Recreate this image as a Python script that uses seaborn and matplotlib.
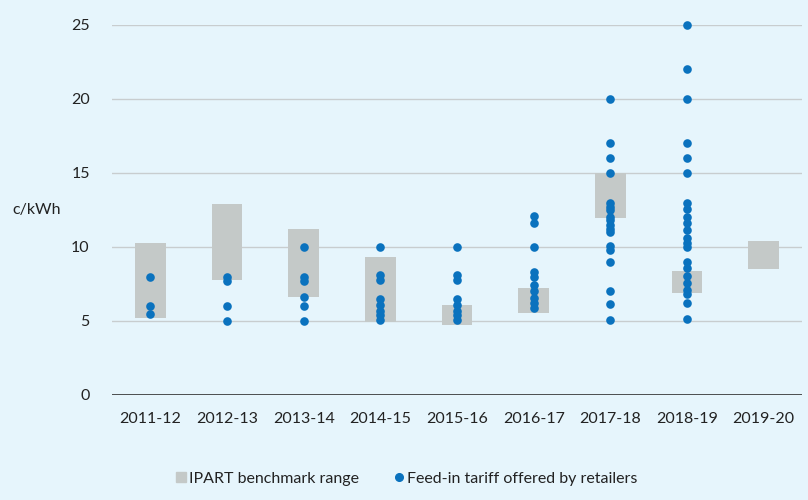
import numpy as np
import pandas as pd
import matplotlib
matplotlib.use("Agg")
import matplotlib.pyplot as plt
from matplotlib.lines import Line2D
import seaborn as sns

years = ["2011-12", "2012-13", "2013-14", "2014-15", "2015-16",
         "2016-17", "2017-18", "2018-19", "2019-20"]
bench_low = [5.2, 7.75, 6.6, 4.95, 4.75, 5.55, 11.95, 6.9, 8.5]
bench_high = [10.3, 12.9, 11.2, 9.3, 6.1, 7.2, 15.0, 8.4, 10.4]

fit_2011 = [8.0, 6.0, 5.5]
fit_2012 = [8.0, 7.7, 6.0, 5.0]
fit_2013 = [10.0, 8.0, 7.7, 6.6, 6.0, 5.0]
fit_2014 = [10.0, 8.1, 7.75, 6.5, 6.1, 5.7, 5.4, 5.05]
fit_2015 = [10.0, 8.1, 7.75, 6.5, 6.1, 5.7, 5.4, 5.05]
fit_2016 = [12.1, 11.6, 10.0, 8.3, 8.0, 7.4, 7.05, 6.55, 6.25, 5.9]
fit_2017 = [20.0, 17.0, 16.0, 15.0, 13.0, 12.7, 12.5, 12.05, 11.8, 11.5,
            11.2, 11.0, 10.05, 9.8, 9.0, 7.0, 6.15, 5.1]
fit_2018 = [25.0, 22.0, 20.0, 17.0, 16.0, 15.0, 13.0, 12.55, 12.05, 11.6,
            11.15, 10.6, 10.25, 10.0, 9.0, 8.55, 8.05, 7.55, 7.1, 6.8, 6.25, 5.15]
fit_2019 = []

fit_lists = [fit_2011, fit_2012, fit_2013, fit_2014, fit_2015,
             fit_2016, fit_2017, fit_2018, fit_2019]

bg = "#E6F5FC"
bar_color = "#C4C9C8"
dot_color = "#0A72BE"
text_color = "#222222"

plt.rcParams['font.family'] = ['Lato', 'DejaVu Sans']

fig = plt.figure(figsize=(8.08, 5.0), dpi=100, facecolor=bg)
ax = fig.add_axes([0.1386, 0.21, 0.854, 0.74])
ax.set_facecolor(bg)

bench_df = pd.DataFrame({
    "year": years,
    "span": np.array(bench_high) - np.array(bench_low),
    "low": bench_low,
})
sns.barplot(data=bench_df, x="year", y="span", order=years,
            bottom=bench_df["low"].values, color=bar_color, saturation=1,
            width=0.4, ax=ax, zorder=2, linewidth=0)

dots_df = pd.DataFrame({
    "year": [y for y, vals in zip(years, fit_lists) for _ in vals],
    "value": [v for vals in fit_lists for v in vals],
})
sns.stripplot(data=dots_df, x="year", y="value", order=years, jitter=False,
              color=dot_color, size=6.2, linewidth=0, ax=ax, zorder=3,
              clip_on=False)

ax.set_xlim(-0.5, 8.5)
ax.set_ylim(0, 25)
ax.set_yticks([0, 5, 10, 15, 20, 25])
ax.yaxis.grid(True, color="#C8CDCF", linewidth=1)
ax.set_axisbelow(True)
for s in ["top", "right", "left", "bottom"]:
    ax.spines[s].set_visible(False)
ax.axhline(0, color="#333333", linewidth=1.2, zorder=4)
ax.tick_params(axis="both", length=0, labelsize=11.5, colors=text_color)
ax.tick_params(axis="y", pad=16)
ax.tick_params(axis="x", pad=12)
ax.set_xlabel("")
ax.set_ylabel("")
fig.text(0.015, 0.58, "c/kWh", fontsize=11.5, color=text_color,
         ha="left", va="center")

handles = [
    Line2D([], [], marker="s", linestyle="none", color=bar_color,
           markersize=7, label="IPART benchmark range"),
    Line2D([], [], marker="o", linestyle="none", color=dot_color,
           markersize=5.5, label="Feed-in tariff offered by retailers"),
]
fig.legend(handles=handles, loc="center", bbox_to_anchor=(0.502, 0.043),
           ncol=2, frameon=False, fontsize=11.5, handletextpad=0.0,
           columnspacing=2.0, handlelength=1.0, labelcolor=text_color)

fig.savefig("out.png", dpi=100, facecolor=bg)
